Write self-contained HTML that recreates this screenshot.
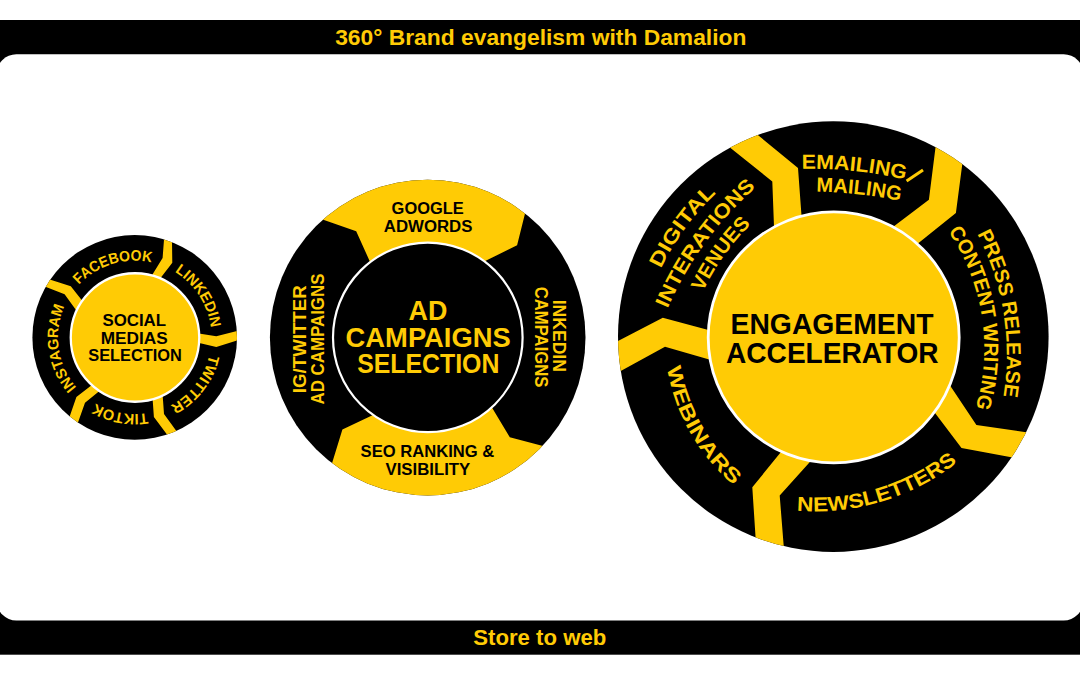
<!DOCTYPE html>
<html><head><meta charset="utf-8"><title>360 Brand evangelism with Damalion</title>
<style>html,body{margin:0;padding:0;background:#fff;}svg{display:block;}text{font-family:"Liberation Sans", sans-serif;font-weight:bold;}</style></head><body>
<svg width="1080" height="675" viewBox="0 0 1080 675">
<rect x="0" y="0" width="1080" height="675" fill="#fff"/>
<rect x="0" y="20" width="1080" height="634.7" fill="#000000"/>
<rect x="-3.6" y="54.3" width="1087.2" height="566.1" rx="20" ry="20" fill="#fff"/>
<defs>
<clipPath id="cp1"><circle cx="134.7" cy="337.4" r="102.3"/></clipPath>
<clipPath id="cp3"><circle cx="833.3" cy="336.6" r="215.3"/></clipPath>
<clipPath id="cp2"><circle cx="427.7" cy="337.6" r="157.8"/></clipPath>
</defs>
<circle cx="134.7" cy="337.4" r="102.3" fill="#000000"/>
<g clip-path="url(#cp1)" fill="#FFCB05">
<polygon points="164.91,227.73 162.6,258.1 148.31,281.32 157.87,281.5 172.3,262.8 171.83,229.5"/>
<polygon points="248.64,328.18 216.3,336.3 187.74,331.85 187.62,340.25 216.3,347 248.17,337.16"/>
<polygon points="183.17,440.3 164,414 161.95,385.13 151.83,388.33 153.9,416.9 173.86,443.73"/>
<polygon points="65.96,427.13 76.4,397.1 98.66,379.71 107.11,384.83 85,402.8 74.19,433.31"/>
<polygon points="38.07,275.85 70.8,286.3 88.37,308.39 77.26,311.7 64.6,294.3 33.83,282.21"/>
</g>
<circle cx="135" cy="337.5" r="64.25" fill="#FFCB05" stroke="#fff" stroke-width="2.3"/>
<circle cx="833.3" cy="336.6" r="215.3" fill="#000000"/>
<g clip-path="url(#cp3)" fill="#FFCB05">
<polygon points="721.43,140.7 772.3,181.4 774.35,235.69 802.18,224.87 798,168.1 748.03,126.97"/>
<polygon points="937,135.49 928.9,199.7 885.33,232.64 910.44,249.52 955.9,213 963.66,153.8"/>
<polygon points="1038.08,434.02 976.4,425.1 944.04,376.62 928.56,404.43 961.5,448 1023.1,459.38"/>
<polygon points="756.38,549.87 752.3,487.3 787.27,444.29 817.52,453.47 779.7,495.6 784.75,558.96"/>
<polygon points="607.14,346.62 662.8,317.8 717.69,332.51 718.73,362.23 665,346.7 608.88,377.47"/>
</g>
<circle cx="833.7" cy="337.4" r="125.5" fill="#FFCB05" stroke="#fff" stroke-width="2.8"/>
<circle cx="427.7" cy="337.6" r="157.8" fill="#000000"/>
<g clip-path="url(#cp2)" fill="#FFCB05">
<polygon points="309.68,215.09 356.2,231.3 374.67,272.16 427.7,337.6 476.54,265.29 517.1,245.3 528.49,199.62 627.7,137.6 227.7,137.6"/>
<polygon points="558.14,450.08 509.8,437.3 486.51,398.39 427.7,337.6 383.55,410.11 342.4,429.6 327.87,476.68 227.7,537.6 627.7,537.6"/>
</g>
<circle cx="427.8" cy="337.4" r="94.8" fill="#000000" stroke="#fff" stroke-width="2.2"/>
<text x="335.18" y="45.4" font-size="21.6" fill="#FFCB05" textLength="411.24" lengthAdjust="spacingAndGlyphs">360° Brand evangelism with Damalion</text>
<text x="473.26" y="645" font-size="21.6" fill="#FFCB05" textLength="133.05" lengthAdjust="spacingAndGlyphs">Store to web</text>
<text x="102.41" y="325.9" font-size="17" fill="#000000" textLength="63.7" lengthAdjust="spacingAndGlyphs">SOCIAL</text>
<text x="100.75" y="343.6" font-size="17" fill="#000000" textLength="67.03" lengthAdjust="spacingAndGlyphs">MEDIAS</text>
<text x="88.23" y="361" font-size="17" fill="#000000" textLength="93.67" lengthAdjust="spacingAndGlyphs">SELECTION</text>
<text x="408.53" y="320.3" font-size="27" fill="#FFCB05" textLength="38.8" lengthAdjust="spacingAndGlyphs">AD</text>
<text x="345.59" y="346.7" font-size="27" fill="#FFCB05" textLength="165.16" lengthAdjust="spacingAndGlyphs">CAMPAIGNS</text>
<text x="357.18" y="372.8" font-size="27" fill="#FFCB05" textLength="142.19" lengthAdjust="spacingAndGlyphs">SELECTION</text>
<text x="730.51" y="333.5" font-size="29.7" fill="#000000" textLength="203" lengthAdjust="spacingAndGlyphs">ENGAGEMENT</text>
<text x="726.11" y="362.6" font-size="29.5" fill="#000000" textLength="212.46" lengthAdjust="spacingAndGlyphs">ACCELERATOR</text>
<text x="391.63" y="213.6" font-size="16" fill="#000000" textLength="72.12" lengthAdjust="spacingAndGlyphs">GOOGLE</text>
<text x="383.78" y="232" font-size="16" fill="#000000" textLength="88.67" lengthAdjust="spacingAndGlyphs">ADWORDS</text>
<text x="360.62" y="457" font-size="16.5" fill="#000000" textLength="133.6" lengthAdjust="spacingAndGlyphs">SEO RANKING &amp;</text>
<text x="385.49" y="475.2" font-size="16.5" fill="#000000" textLength="84.78" lengthAdjust="spacingAndGlyphs">VISIBILITY</text>
<text transform="translate(305.85 391.9) rotate(-90)" x="-1.25" y="0" font-size="18.3" fill="#FFCB05" textLength="107.78" lengthAdjust="spacingAndGlyphs">IG/TWITTER</text>
<text transform="translate(324 404.1) rotate(-90)" x="-0.42" y="0" font-size="18.6" fill="#FFCB05" textLength="130.92" lengthAdjust="spacingAndGlyphs">AD CAMPAIGNS</text>
<text transform="translate(553.3 300.9) rotate(90)" x="-1.17" y="0" font-size="17.6" fill="#FFCB05" textLength="72.16" lengthAdjust="spacingAndGlyphs">INKEDIN</text>
<text transform="translate(534.7 287.4) rotate(90)" x="-0.68" y="0" font-size="17.7" fill="#FFCB05" textLength="100.72" lengthAdjust="spacingAndGlyphs">CAMPAIGNS</text>
<path id="p1" d="M72.65 292.32 A76.7 76.7 0 0 1 161.44 265.51" fill="none"/>
<text font-size="15" fill="#FFCB05"><textPath href="#p1" startOffset="9.78" textLength="79.23" lengthAdjust="spacingAndGlyphs">FACEBOOK</textPath></text>
<path id="p2" d="M166.14 267.44 A76.7 76.7 0 0 1 211.4 337.4" fill="none"/>
<text font-size="15" fill="#FFCB05"><textPath href="#p2" startOffset="9.74" textLength="68.62" lengthAdjust="spacingAndGlyphs">LINKEDIN</textPath></text>
<path id="p3" d="M211.1 344.22 A76.7 76.7 0 0 1 160.68 409.57" fill="none"/>
<text font-size="15" fill="#FFCB05"><textPath href="#p3" startOffset="10.54" textLength="66.2" lengthAdjust="spacingAndGlyphs">TWITTER</textPath></text>
<path id="p4" d="M157.64 410.59 A76.7 76.7 0 0 1 86.74 397.26" fill="none"/>
<text font-size="15" fill="#FFCB05"><textPath href="#p4" startOffset="10.55" textLength="53.98" lengthAdjust="spacingAndGlyphs">TIKTOK</textPath></text>
<path id="p5" d="M83.38 394.4 A76.7 76.7 0 0 1 69.02 297.78" fill="none"/>
<text font-size="15" fill="#FFCB05"><textPath href="#p5" startOffset="9.76" textLength="86.38" lengthAdjust="spacingAndGlyphs">INSTAGRAM</textPath></text>
<path id="p6" d="M746.63 173.95 A407.18 407.18 0 0 1 958.3 196" fill="none"/>
<text font-size="20.3" fill="#FFCB05"><textPath href="#p6" startOffset="55.42" textLength="104.36" lengthAdjust="spacingAndGlyphs">EMAILING</textPath></text>
<line x1="906.6" y1="181.0" x2="923.0" y2="169.9" stroke="#FFCB05" stroke-width="3"/>
<path id="p7" d="M755.05 194.89 A449.61 449.61 0 0 1 959.53 217.5" fill="none"/>
<text font-size="20.3" fill="#FFCB05"><textPath href="#p7" startOffset="61.44" textLength="84.59" lengthAdjust="spacingAndGlyphs">MAILING</textPath></text>
<path id="p8" d="M958.76 203.73 A261.42 261.42 0 0 1 995.42 431.04" fill="none"/>
<text font-size="20.3" fill="#FFCB05"><textPath href="#p8" startOffset="35.17" textLength="167.54" lengthAdjust="spacingAndGlyphs">PRESS RELEASE</textPath></text>
<path id="p9" d="M930.82 209.14 A208 208 0 0 1 965.96 433.83" fill="none"/>
<text font-size="20.3" fill="#FFCB05"><textPath href="#p9" startOffset="28.24" textLength="184.53" lengthAdjust="spacingAndGlyphs">CONTENT WRITING</textPath></text>
<path id="p10" d="M766.69 506.07 A228.98 228.98 0 0 0 980.25 441.34" fill="none"/>
<text font-size="20.3" fill="#FFCB05"><textPath href="#p10" startOffset="30.45" textLength="171.55" lengthAdjust="spacingAndGlyphs">NEWSLETTERS</textPath></text>
<path id="p11" d="M648.75 300 A250.75 250.75 0 0 1 742.89 171.57" fill="none"/>
<text font-size="20.3" fill="#FFCB05"><textPath href="#p11" startOffset="33.43" textLength="94.32" lengthAdjust="spacingAndGlyphs">DIGITAL</textPath></text>
<path id="p12" d="M652.1 352.35 A342.92 342.92 0 0 1 793.28 158.81" fill="none"/>
<text font-size="20.3" fill="#FFCB05"><textPath href="#p12" startOffset="46.39" textLength="151.33" lengthAdjust="spacingAndGlyphs">INTERATIONS</textPath></text>
<path id="p13" d="M691.35 321.67 A228.64 228.64 0 0 1 774.63 204.37" fill="none"/>
<text font-size="20.3" fill="#FFCB05"><textPath href="#p13" startOffset="31.79" textLength="83.43" lengthAdjust="spacingAndGlyphs">VENUES</textPath></text>
<path id="p14" d="M664.24 340.35 A198.13 198.13 0 0 0 755 501.05" fill="none"/>
<text font-size="20.3" fill="#FFCB05"><textPath href="#p14" startOffset="27.64" textLength="137.67" lengthAdjust="spacingAndGlyphs">WEBINARS</textPath></text>
</svg></body></html>
